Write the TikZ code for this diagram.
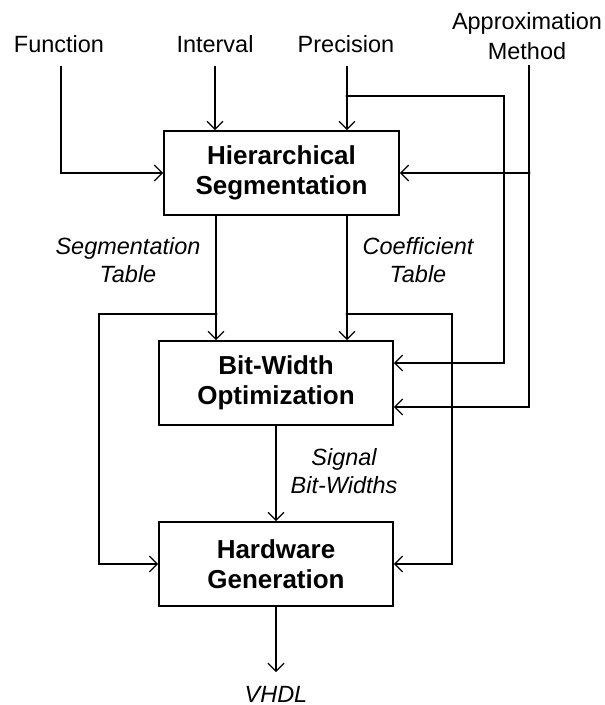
\documentclass[tikz,border=0pt]{standalone}
\usepackage{fontspec}
\setmainfont{Liberation Sans}
\usetikzlibrary{arrows.meta}
\begin{document}
\begin{tikzpicture}[x=0.75pt,y=-0.75pt,
  wire/.style={line width=1.3pt},
  feed/.style={wire,-{Straight Barb[length=6pt,width=12pt,line width=0.9pt]}},
  stage/.style={draw,line width=1.3pt,inner sep=0pt,align=center,
    font=\fontsize{19.5}{22.5}\selectfont\bfseries},
  inlabel/.style={anchor=base,inner sep=0pt,font=\fontsize{17.6}{21}\selectfont},
  datalabel/.style={anchor=base,inner sep=0pt,font=\fontsize{17.6}{21}\selectfont\itshape},
  tap/.style={circle,fill,inner sep=0pt,minimum size=2.6pt}]
\useasboundingbox (0,0) rectangle (605,705);

% processing stages
\node[stage,minimum width=176.25pt,minimum height=63pt] (hs) at (281.5,173) {Hierarchical\\Segmentation};
\node[stage,minimum width=175.5pt,minimum height=63pt] (bwo) at (276,383) {Bit-Width\\Optimization};
\node[stage,minimum width=175.5pt,minimum height=63pt] (hg) at (276,564) {Hardware\\Generation};

% inputs
\node[inlabel] (fnL) at (59,53) {Function};
\node[inlabel] (intL) at (215,53) {Interval};
\node[inlabel] (precL) at (346,53) {Precision};
\node[inlabel] (apxA) at (527,30) {Approximation};
\node[inlabel] (apxB) at (527,60) {Method};

% intermediate data and output
\node[datalabel] (segA) at (128,255) {Segmentation};
\node[datalabel] (segB) at (128,283) {Table};
\node[datalabel] (cofA) at (418,255) {Coefficient};
\node[datalabel] (cofB) at (418,283) {Table};
\node[datalabel] (sigA) at (344,465) {Signal};
\node[datalabel] (sigB) at (344,493) {Bit-Widths};
\node[datalabel] (vhdl) at (276,702) {VHDL};

% wire end points and branch points
\coordinate (fnTop) at (61,66);
\coordinate (intTop) at (215,66);
\coordinate (precTop) at (347,66);
\coordinate (apxTop) at (529,65);
\coordinate (precTap) at (347,96);
\coordinate (precTurn) at (504,96);
\coordinate (apxTap) at (529,173);
\coordinate (segTap) at (216,314);
\coordinate (cofTap) at (347,314);
\coordinate (segSide) at (99,314);
\coordinate (cofSide) at (452,314);
\coordinate (out) at (276,672);

% connections
\draw[feed] (fnTop) |- (hs.west);
\draw[feed] (intTop) -- (intTop |- hs.north);
\draw[feed] (precTop) -- (precTop |- hs.north);
\draw[feed] (precTap) -- (precTurn) |- ([yshift=15pt]bwo.east);
\draw[feed] (apxTop) |- ([yshift=-18pt]bwo.east);
\draw[feed] (apxTap) -- (hs.east);
\draw[feed] (hs.south -| segTap) -- (segTap |- bwo.north);
\draw[feed] (hs.south -| cofTap) -- (cofTap |- bwo.north);
\draw[feed] (segTap) -- (segSide) |- (hg.west);
\draw[feed] (cofTap) -- (cofSide) |- (hg.east);
\draw[feed] (bwo.south) -- (hg.north);
\draw[feed] (hg.south) -- (out);

% junction dots
\node[tap] (dotPrec) at (precTap) {};
\node[tap] (dotApx) at (apxTap) {};
\node[tap] (dotSeg) at (segTap) {};
\node[tap] (dotCof) at (cofTap) {};
\end{tikzpicture}
\end{document}
